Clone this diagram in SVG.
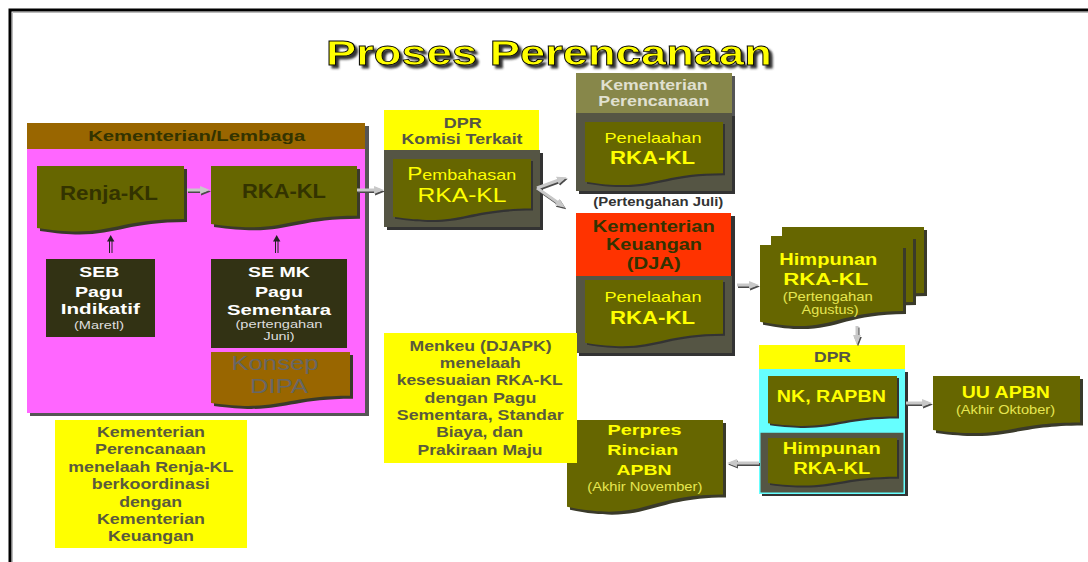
<svg xmlns="http://www.w3.org/2000/svg" xmlns:xlink="http://www.w3.org/1999/xlink" width="1088" height="562" viewBox="0 0 1088 562">
<style>
text{font-family:"Liberation Sans",Arial,sans-serif;text-anchor:middle}
.b{font-weight:bold}
.dk{fill:#333300}
.wh{fill:#FFFFFF}
.sm{fill:#DDDDDD;font-size:11px}
.yl{fill:#FFFF00}
.ys{fill:#E6E650;font-size:12px}
.nt{fill:#5A5A3C;font-size:14px;font-weight:bold}
.olive{fill:#666600}
.dsh{fill:#3A3A2A}
.body{fill:#555544}
.ar{fill:none;stroke:#C8C8C8;stroke-width:3;marker-end:url(#hl)}
.as{fill:none;stroke:#4A4A4A;stroke-width:3;marker-end:url(#hd)}
</style>
<defs>
<marker id="hl" viewBox="0 0 10 10" refX="6" refY="5" markerWidth="3.3" markerHeight="3.3" orient="auto"><path d="M0,1 L10,5 L0,9 z" fill="#C8C8C8"/></marker>
<marker id="hd" viewBox="0 0 10 10" refX="6" refY="5" markerWidth="3.3" markerHeight="3.3" orient="auto"><path d="M0,1 L10,5 L0,9 z" fill="#4A4A4A"/></marker>
<filter id="tsh" x="-5%" y="-30%" width="112%" height="170%">
<feGaussianBlur in="SourceAlpha" stdDeviation="1.2" result="bl"/>
<feOffset in="bl" dx="2.5" dy="3" result="of"/>
<feFlood flood-color="#333333"/>
<feComposite in2="of" operator="in" result="sh"/>
<feMerge><feMergeNode in="sh"/><feMergeNode in="SourceGraphic"/></feMerge>
</filter>
<path id="dRenja" d="M37,166 H184 V219 C110.5,219 110.5,239.5 37,228 Z"/>
<path id="dRka" d="M211,166 H357 V215.7 C284,215.7 284,234.7 211,224 Z"/>
<path id="dKonsep" d="M211,352 H350 V395.8 C280.5,395.8 280.5,412.5 211,403 Z"/>
<path id="dPemb" d="M393,159 H531 V208.6 C462,208.6 462,227.4 393,216.7 Z"/>
<path id="dKP" d="M585,122 H723 V173.3 C654,173.3 654,192.8 585,181.7 Z"/>
<path id="dDJA" d="M585,280 H723 V333.8 C654,333.8 654,354.3 585,342.7 Z"/>
<path id="dH3" d="M782,227 H924 V292.9 C853,292.9 853,318 782,303.8 Z"/>
<path id="dH2" d="M771,236 H913 V301.9 C842,301.9 842,327 771,312.8 Z"/>
<path id="dH1" d="M760,245 H903 V310.9 C831.5,310.9 831.5,336 760,321.7 Z"/>
<path id="dNK" d="M768,376 H897 V416.6 C832.5,416.6 832.5,432 768,423.3 Z"/>
<path id="dHL" d="M768,438 H897 V476.7 C832.5,476.7 832.5,491.4 768,483 Z"/>
<path id="dUU" d="M933,376 H1080 V422.4 C1006.5,422.4 1006.5,440 933,430 Z"/>
<path id="dPer" d="M567,420 H723 V494.4 C645,494.4 645,522.8 567,506.7 Z"/>
</defs>

<rect width="1088" height="562" fill="#FFFFFF"/>
<path d="M10,562 V10 H1088" fill="none" stroke="#000000" stroke-width="3"/>
<path d="M12.5,562 V12.5 H1088" fill="none" stroke="#BBBBBB" stroke-width="1"/>

<g id="title">
<text x="549" y="64.5" font-size="35" class="b" fill="#FFFF00" stroke="#000000" stroke-width="0.8" textLength="446" lengthAdjust="spacingAndGlyphs" filter="url(#tsh)">Proses Perencanaan</text>
</g>

<g id="kementerian-lembaga">
<rect x="30" y="126" width="339" height="290" fill="#555555"/>
<rect x="27" y="123" width="338" height="26" fill="#996600"/>
<rect x="27" y="149" width="338" height="264" fill="#FF66FF"/>
<text x="196.7" y="141" font-size="15" class="b dk" textLength="217" lengthAdjust="spacingAndGlyphs">Kementerian/Lembaga</text>
</g>

<g id="renja-kl">
<use xlink:href="#dRenja" class="dsh" transform="translate(3,3)"/>
<use xlink:href="#dRenja" class="olive"/>
<text x="109" y="200" font-size="20" class="b dk" textLength="98" lengthAdjust="spacingAndGlyphs">Renja-KL</text>
</g>

<g id="rka-kl">
<use xlink:href="#dRka" class="dsh" transform="translate(3,3)"/>
<use xlink:href="#dRka" class="olive"/>
<text x="284" y="198" font-size="20" class="b dk" textLength="84" lengthAdjust="spacingAndGlyphs">RKA-KL</text>
</g>

<g id="seb">
<rect x="46" y="259" width="109" height="78" fill="#323214"/>
<text x="99.3" y="277" font-size="15" class="b wh" textLength="40" lengthAdjust="spacingAndGlyphs">SEB</text>
<text x="99" y="297" font-size="15" class="b wh" textLength="48" lengthAdjust="spacingAndGlyphs">Pagu</text>
<text x="100.3" y="314" font-size="15" class="b wh" textLength="79" lengthAdjust="spacingAndGlyphs">Indikatif</text>
<text x="99" y="329" class="sm" textLength="50" lengthAdjust="spacingAndGlyphs">(Maretl)</text>
</g>

<g id="se-mk">
<rect x="211" y="259" width="136" height="89" fill="#323214"/>
<text x="279" y="277" font-size="15" class="b wh" textLength="62" lengthAdjust="spacingAndGlyphs">SE MK</text>
<text x="279" y="297" font-size="15" class="b wh" textLength="48" lengthAdjust="spacingAndGlyphs">Pagu</text>
<text x="279" y="314.5" font-size="15" class="b wh" textLength="104" lengthAdjust="spacingAndGlyphs">Sementara</text>
<text x="279" y="328" class="sm" textLength="87" lengthAdjust="spacingAndGlyphs">(pertengahan</text>
<text x="279" y="340" class="sm" textLength="31" lengthAdjust="spacingAndGlyphs">Juni)</text>
</g>

<g id="konsep-dipa">
<use xlink:href="#dKonsep" class="dsh" transform="translate(3,3)"/>
<use xlink:href="#dKonsep" fill="#996600"/>
<text x="275" y="370" font-size="20" fill="#666666" textLength="87" lengthAdjust="spacingAndGlyphs">Konsep</text>
<text x="279" y="393" font-size="20" fill="#666666" textLength="58" lengthAdjust="spacingAndGlyphs">DIPA</text>
</g>

<g id="note-kementerian">
<rect x="55" y="420" width="192" height="128" fill="#FFFF00"/>
<text x="151" y="436.5" class="nt" textLength="108" lengthAdjust="spacingAndGlyphs">Kementerian</text>
<text x="150.5" y="454" class="nt" textLength="111" lengthAdjust="spacingAndGlyphs">Perencanaan</text>
<text x="150.8" y="471.5" class="nt" textLength="165" lengthAdjust="spacingAndGlyphs">menelaah Renja-KL</text>
<text x="150.8" y="489" class="nt" textLength="118" lengthAdjust="spacingAndGlyphs">berkoordinasi</text>
<text x="150.7" y="506.5" class="nt" textLength="63" lengthAdjust="spacingAndGlyphs">dengan</text>
<text x="151" y="524" class="nt" textLength="108" lengthAdjust="spacingAndGlyphs">Kementerian</text>
<text x="151" y="541" class="nt" textLength="86" lengthAdjust="spacingAndGlyphs">Keuangan</text>
</g>

<g id="dpr-komisi">
<rect x="384" y="110" width="155" height="40" fill="#FFFF00"/>
<rect x="387" y="153" width="156" height="77" fill="#333333"/>
<rect x="384" y="150" width="156" height="77" class="body"/>
<use xlink:href="#dPemb" fill="#333333" transform="translate(2,2)"/>
<use xlink:href="#dPemb" class="olive"/>
<text x="462.8" y="127.5" font-size="14" class="b" fill="#555544" textLength="38" lengthAdjust="spacingAndGlyphs">DPR</text>
<text x="462" y="144" font-size="14" class="b" fill="#555544" textLength="121" lengthAdjust="spacingAndGlyphs">Komisi Terkait</text>
<text x="461.7" y="180" font-size="15" class="yl" textLength="109" lengthAdjust="spacingAndGlyphs"><tspan font-size="19">P</tspan>embahasan</text>
<text x="462" y="201.5" font-size="21" class="yl" textLength="89" lengthAdjust="spacingAndGlyphs">RKA-KL</text>
</g>

<g id="kementerian-perencanaan">
<rect x="579" y="76" width="156" height="40" fill="#555555"/>
<rect x="576" y="73" width="156" height="40" fill="#87874A"/>
<rect x="579" y="116" width="156" height="78" fill="#333333"/>
<rect x="576" y="113" width="156" height="78" class="body"/>
<use xlink:href="#dKP" fill="#333333" transform="translate(2,2)"/>
<use xlink:href="#dKP" class="olive"/>
<text x="654" y="90" font-size="14" class="b" fill="#E0E0D0" textLength="107" lengthAdjust="spacingAndGlyphs">Kementerian</text>
<text x="653.8" y="106" font-size="14" class="b" fill="#E0E0D0" textLength="111" lengthAdjust="spacingAndGlyphs">Perencanaan</text>
<text x="653" y="142.5" font-size="15" class="yl" textLength="97" lengthAdjust="spacingAndGlyphs">Penelaahan</text>
<text x="652.5" y="163.5" font-size="19" class="b yl" textLength="85" lengthAdjust="spacingAndGlyphs">RKA-KL</text>
<text x="658.3" y="206" font-size="12" class="b" fill="#333333" textLength="130" lengthAdjust="spacingAndGlyphs">(Pertengahan Juli)</text>
</g>

<g id="kementerian-keuangan">
<rect x="579" y="216" width="156" height="140" fill="#333333"/>
<rect x="576" y="213" width="155" height="63" fill="#FF3300"/>
<rect x="576" y="276" width="156" height="77" class="body"/>
<use xlink:href="#dDJA" fill="#333333" transform="translate(2,2)"/>
<use xlink:href="#dDJA" class="olive"/>
<text x="653.8" y="231.5" font-size="16" class="b dk" textLength="122" lengthAdjust="spacingAndGlyphs">Kementerian</text>
<text x="654" y="250" font-size="16" class="b dk" textLength="96" lengthAdjust="spacingAndGlyphs">Keuangan</text>
<text x="653.7" y="268.5" font-size="16" class="b dk" textLength="54" lengthAdjust="spacingAndGlyphs">(DJA)</text>
<text x="653" y="302" font-size="15" class="yl" textLength="97" lengthAdjust="spacingAndGlyphs">Penelaahan</text>
<text x="652.5" y="324" font-size="19" class="b yl" textLength="85" lengthAdjust="spacingAndGlyphs">RKA-KL</text>
</g>

<g id="himpunan-stack">
<use xlink:href="#dH3" class="dsh" transform="translate(3,3)"/>
<use xlink:href="#dH3" class="olive"/>
<use xlink:href="#dH2" class="dsh" transform="translate(3,3)"/>
<use xlink:href="#dH2" class="olive"/>
<use xlink:href="#dH1" class="dsh" transform="translate(3,3)"/>
<use xlink:href="#dH1" class="olive"/>
<text x="828.3" y="265" font-size="16" class="b yl" textLength="98" lengthAdjust="spacingAndGlyphs">Himpunan</text>
<text x="825.8" y="285" font-size="16" class="b yl" textLength="85" lengthAdjust="spacingAndGlyphs">RKA-KL</text>
<text x="827.7" y="300.5" class="ys" textLength="90" lengthAdjust="spacingAndGlyphs">(Pertengahan</text>
<text x="830" y="313.5" class="ys" textLength="57" lengthAdjust="spacingAndGlyphs">Agustus)</text>
</g>

<g id="dpr">
<rect x="759" y="345" width="146" height="24" fill="#FFFF00"/>
<rect x="762" y="372" width="146" height="124" fill="#333333"/>
<rect x="759" y="369" width="146" height="63" fill="#66FFFF"/>
<rect x="759.75" y="432" width="144.5" height="61.25" class="body" stroke="#66FFFF" stroke-width="1.5"/>
<use xlink:href="#dNK" fill="#333333" transform="translate(2,2)"/>
<use xlink:href="#dNK" class="olive"/>
<use xlink:href="#dHL" fill="#333333" transform="translate(2,2)"/>
<use xlink:href="#dHL" class="olive"/>
<text x="832.5" y="361.5" font-size="14" class="b" fill="#555544" textLength="37" lengthAdjust="spacingAndGlyphs">DPR</text>
<text x="831.3" y="401.5" font-size="16" class="b yl" textLength="109" lengthAdjust="spacingAndGlyphs">NK, RAPBN</text>
<text x="831.7" y="454" font-size="16" class="b yl" textLength="98" lengthAdjust="spacingAndGlyphs">Himpunan</text>
<text x="831.7" y="474" font-size="16" class="b yl" textLength="77" lengthAdjust="spacingAndGlyphs">RKA-KL</text>
</g>

<g id="uu-apbn">
<use xlink:href="#dUU" class="dsh" transform="translate(3,3)"/>
<use xlink:href="#dUU" class="olive"/>
<text x="1005.8" y="397.5" font-size="16" class="b yl" textLength="88" lengthAdjust="spacingAndGlyphs">UU APBN</text>
<text x="1005.5" y="414" class="ys" textLength="99" lengthAdjust="spacingAndGlyphs">(Akhir Oktober)</text>
</g>

<g id="perpres">
<use xlink:href="#dPer" class="dsh" transform="translate(3,3)"/>
<use xlink:href="#dPer" class="olive"/>
<text x="644.5" y="435" font-size="15" class="b yl" textLength="74" lengthAdjust="spacingAndGlyphs">Perpres</text>
<text x="642.8" y="455" font-size="15" class="b yl" textLength="71" lengthAdjust="spacingAndGlyphs">Rincian</text>
<text x="644" y="475" font-size="15" class="b yl" textLength="55" lengthAdjust="spacingAndGlyphs">APBN</text>
<text x="644.8" y="491" class="ys" textLength="115" lengthAdjust="spacingAndGlyphs">(Akhir November)</text>
</g>

<g id="note-menkeu">
<rect x="384" y="333" width="193" height="130" fill="#FFFF00"/>
<text x="480.5" y="350.5" class="nt" textLength="142" lengthAdjust="spacingAndGlyphs">Menkeu (DJAPK)</text>
<text x="480.3" y="367.5" class="nt" textLength="81" lengthAdjust="spacingAndGlyphs">menelaah</text>
<text x="479.7" y="385" class="nt" textLength="166" lengthAdjust="spacingAndGlyphs">kesesuaian RKA-KL</text>
<text x="480.5" y="402.5" class="nt" textLength="112" lengthAdjust="spacingAndGlyphs">dengan Pagu</text>
<text x="480.3" y="420" class="nt" textLength="167" lengthAdjust="spacingAndGlyphs">Sementara, Standar</text>
<text x="479.7" y="437" class="nt" textLength="87" lengthAdjust="spacingAndGlyphs">Biaya, dan</text>
<text x="480" y="454.5" class="nt" textLength="125" lengthAdjust="spacingAndGlyphs">Prakiraan Maju</text>
</g>

<g id="connectors">
<g transform="translate(1,1.5)">
<path class="as" d="M187,190 H206"/>
<path class="as" d="M357,190 H380"/>
<path class="as" d="M537,188 L563,178.5"/>
<path class="as" d="M537,188 L562,205.5"/>
<path class="as" d="M737,285 H755"/>
<path class="as" d="M857,326 V341"/>
<path class="as" d="M906,403 H928"/>
<path class="as" d="M759,463 H731"/>
</g>
<path class="ar" d="M187,190 H206"/>
<path class="ar" d="M357,190 H380"/>
<path class="ar" d="M537,188 L563,178.5"/>
<path class="ar" d="M537,188 L562,205.5"/>
<path class="ar" d="M737,285 H755"/>
<path class="ar" d="M857,326 V341"/>
<path class="ar" d="M906,403 H928"/>
<path class="ar" d="M759,463 H731"/>
<g fill="none" stroke="#222222" stroke-width="1">
<path d="M109.5,253 V240 M112,253 V240"/>
<path d="M275.5,253 V240 M278,253 V240"/>
</g>
<polygon points="107,241.5 110.7,235 114.4,241.5" fill="#222222"/>
<polygon points="273,241.5 276.7,235 280.4,241.5" fill="#222222"/>
</g>
</svg>
